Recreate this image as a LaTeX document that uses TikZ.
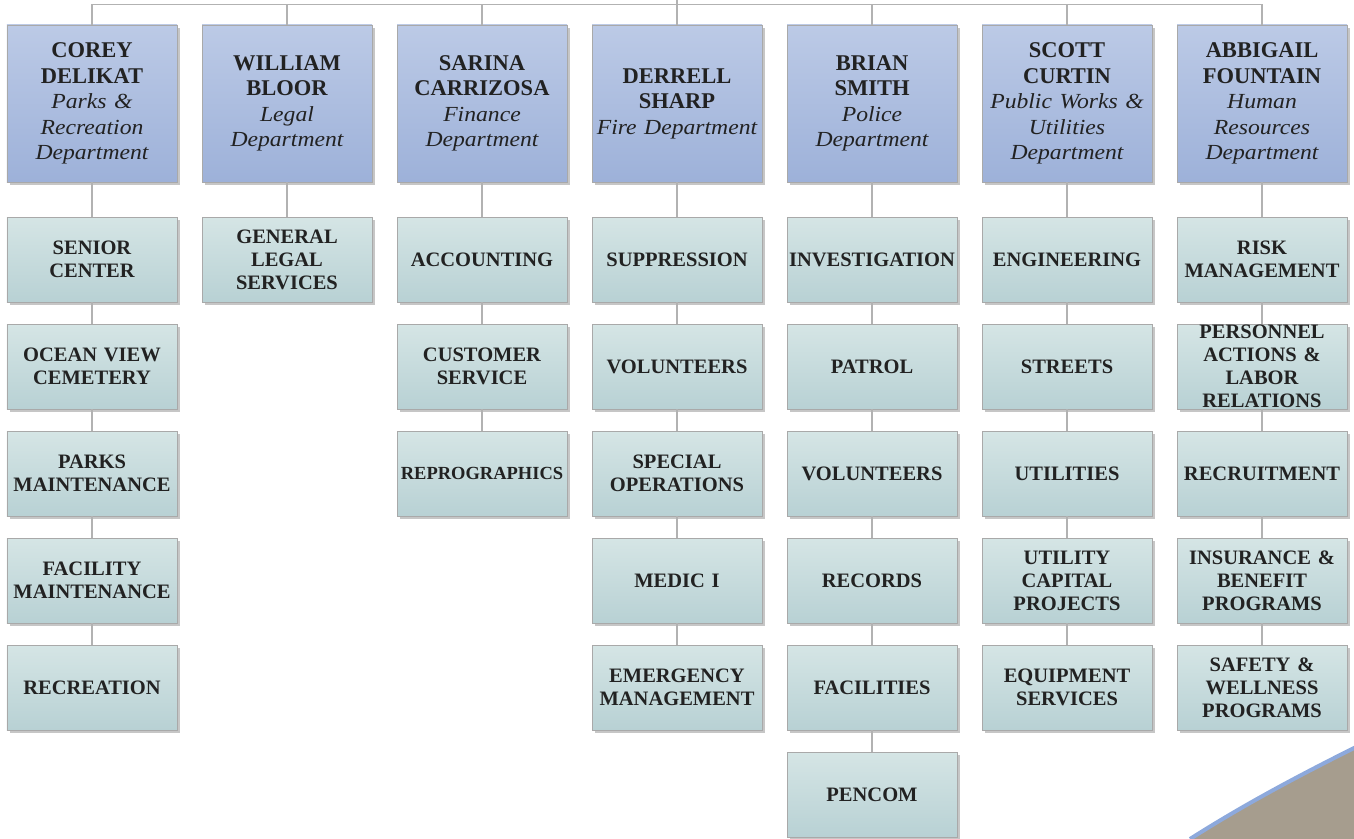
\documentclass[tikz,border=0pt]{standalone}
\usepackage{fontspec}
\setmainfont{Liberation Serif}
\newfontfamily\deptfont[FakeStretch=1.1]{Liberation Serif}
\usetikzlibrary{shadows}

\definecolor{hdrtop}{HTML}{BCCAE6}
\definecolor{hdrbot}{HTML}{9DB1D9}
\definecolor{subtop}{HTML}{D5E5E5}
\definecolor{subbot}{HTML}{B8D1D4}
\definecolor{edgegrey}{HTML}{A9A9A9}
\definecolor{shadowgrey}{HTML}{C6C6C6}
\definecolor{linkgrey}{HTML}{B2B2B2}
\definecolor{inkdark}{HTML}{222222}
\definecolor{swooshfill}{HTML}{A69D8E}
\definecolor{swooshedge}{HTML}{8DA9DC}

% italic department line
\newcommand{\dept}[1]{{\deptfont\mdseries\itshape\fontsize{21.5bp}{25.5bp}\selectfont #1}}

\tikzset{
  boxbase/.style={draw=edgegrey, line width=0.6bp, inner sep=0pt,
    minimum width=170bp, text width=168bp, align=center, text=inkdark,
    drop shadow={shadow xshift=3bp, shadow yshift=-3bp, fill=shadowgrey, opacity=1}},
  headbox/.style={boxbase, top color=hdrtop, bottom color=hdrbot,
    minimum height=157bp, font=\bfseries\fontsize{22.5bp}{25.5bp}\selectfont},
  unitbox/.style={boxbase, top color=subtop, bottom color=subbot,
    minimum height=85bp, font=\bfseries\fontsize{20.5bp}{23bp}\selectfont},
  link/.style={draw=linkgrey, line width=1.6bp},
}

\begin{document}
\begin{tikzpicture}[x=1bp, y=-1bp]
\useasboundingbox (0,0) rectangle (1354,838);

% decorative swoosh in the lower right corner
\fill[swooshfill] (1190,840) .. controls (1245,805) and (1300,776) .. (1356,748) -- (1356,840) -- cycle;
\draw[swooshedge, line width=4bp] (1190,839) .. controls (1245,804) and (1300,775) .. (1356,747);

% department heads
\node[headbox] (h1) at (92,103.5)  {COREY\\DELIKAT\\\dept{Parks \&}\\\dept{Recreation}\\\dept{Department}};
\node[headbox] (h2) at (287,103.5) {WILLIAM\\BLOOR\\\dept{Legal}\\\dept{Department}};
\node[headbox] (h3) at (482,103.5) {SARINA\\CARRIZOSA\\\dept{Finance}\\\dept{Department}};
\node[headbox] (h4) at (677,103.5) {DERRELL\\SHARP\\\dept{Fire Department}};
\node[headbox] (h5) at (872,103.5) {BRIAN\\SMITH\\\dept{Police}\\\dept{Department}};
\node[headbox] (h6) at (1067,103.5) {SCOTT\\CURTIN\\\dept{Public Works \&}\\\dept{Utilities}\\\dept{Department}};
\node[headbox] (h7) at (1262,103.5) {ABBIGAIL\\FOUNTAIN\\\dept{Human}\\\dept{Resources}\\\dept{Department}};

% Parks & Recreation
\node[unitbox] (a1) at (92,259.5) {SENIOR\\CENTER};
\node[unitbox] (a2) at (92,366.5) {OCEAN VIEW\\CEMETERY};
\node[unitbox] (a3) at (92,473.5) {PARKS\\MAINTENANCE};
\node[unitbox] (a4) at (92,580.5) {FACILITY\\MAINTENANCE};
\node[unitbox] (a5) at (92,687.5) {RECREATION};

% Legal
\node[unitbox] (b1) at (287,259.5) {GENERAL\\LEGAL\\SERVICES};

% Finance
\node[unitbox] (c1) at (482,259.5) {ACCOUNTING};
\node[unitbox] (c2) at (482,366.5) {CUSTOMER\\SERVICE};
\node[unitbox, font=\bfseries\fontsize{18.5bp}{22bp}\selectfont] (c3) at (482,473.5) {REPROGRAPHICS};

% Fire
\node[unitbox] (d1) at (677,259.5) {SUPPRESSION};
\node[unitbox] (d2) at (677,366.5) {VOLUNTEERS};
\node[unitbox] (d3) at (677,473.5) {SPECIAL\\OPERATIONS};
\node[unitbox] (d4) at (677,580.5) {MEDIC I};
\node[unitbox] (d5) at (677,687.5) {EMERGENCY\\MANAGEMENT};

% Police
\node[unitbox] (e1) at (872,259.5) {INVESTIGATION};
\node[unitbox] (e2) at (872,366.5) {PATROL};
\node[unitbox] (e3) at (872,473.5) {VOLUNTEERS};
\node[unitbox] (e4) at (872,580.5) {RECORDS};
\node[unitbox] (e5) at (872,687.5) {FACILITIES};
\node[unitbox] (e6) at (872,794.5) {PENCOM};

% Public Works & Utilities
\node[unitbox] (f1) at (1067,259.5) {ENGINEERING};
\node[unitbox] (f2) at (1067,366.5) {STREETS};
\node[unitbox] (f3) at (1067,473.5) {UTILITIES};
\node[unitbox] (f4) at (1067,580.5) {UTILITY\\CAPITAL\\PROJECTS};
\node[unitbox] (f5) at (1067,687.5) {EQUIPMENT\\SERVICES};

% Human Resources
\node[unitbox] (g1) at (1262,259.5) {RISK\\MANAGEMENT};
\node[unitbox] (g2) at (1262,366.5) {PERSONNEL\\ACTIONS \&\\LABOR\\RELATIONS};
\node[unitbox] (g3) at (1262,473.5) {RECRUITMENT};
\node[unitbox] (g4) at (1262,580.5) {INSURANCE \&\\BENEFIT\\PROGRAMS};
\node[unitbox] (g5) at (1262,687.5) {SAFETY \&\\WELLNESS\\PROGRAMS};

% bus line across the heads, fed from above
\coordinate (bus) at (677,4.5);
\coordinate (stem) at (677,-2);
\draw[link] (stem) -- (bus);
\draw[link] (h1.north) -- (h1.north |- bus) -- (h7.north |- bus) -- (h7.north);
\foreach \h in {h2,h3,h4,h5,h6}
  \draw[link] (\h.north) -- (\h.north |- bus);

% chains below each head
\draw[link] (h1) -- (a1) (a1) -- (a2) (a2) -- (a3) (a3) -- (a4) (a4) -- (a5);
\draw[link] (h2) -- (b1);
\draw[link] (h3) -- (c1) (c1) -- (c2) (c2) -- (c3);
\draw[link] (h4) -- (d1) (d1) -- (d2) (d2) -- (d3) (d3) -- (d4) (d4) -- (d5);
\draw[link] (h5) -- (e1) (e1) -- (e2) (e2) -- (e3) (e3) -- (e4) (e4) -- (e5) (e5) -- (e6);
\draw[link] (h6) -- (f1) (f1) -- (f2) (f2) -- (f3) (f3) -- (f4) (f4) -- (f5);
\draw[link] (h7) -- (g1) (g1) -- (g2) (g2) -- (g3) (g3) -- (g4) (g4) -- (g5);
\end{tikzpicture}
\end{document}
